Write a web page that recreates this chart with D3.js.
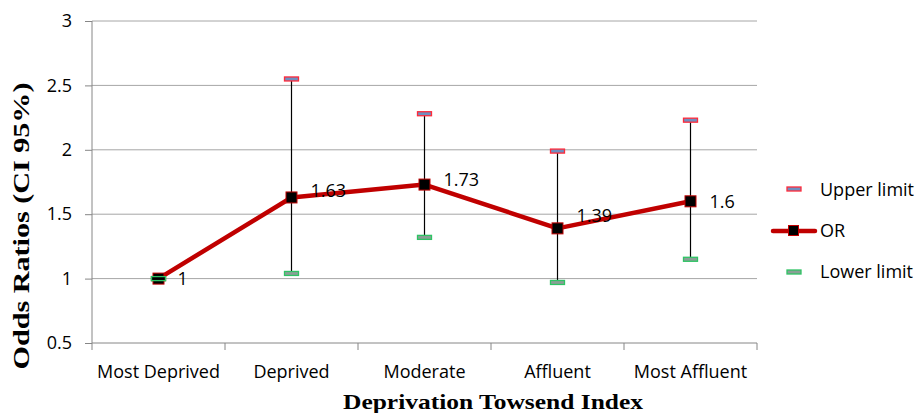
<!DOCTYPE html>
<html>
<head>
<meta charset="utf-8">
<script src="https://cdn.jsdelivr.net/npm/d3@7"></script>
<style>
  body { margin: 0; background: #fff; }
  text { font-family: "Open Sans", "Liberation Sans", sans-serif; }
</style>
</head>
<body>
<div id="chart"></div>
<script>
var width = 922;
var height = 413;

var categories = ["Most Deprived", "Deprived", "Moderate", "Affluent", "Most Affluent"];
var orValues = [1, 1.63, 1.73, 1.39, 1.6];
var upperLimits = [1, 2.55, 2.28, 1.99, 2.23];
var lowerLimits = [1, 1.04, 1.32, 0.97, 1.15];
var yTicks = [0.5, 1, 1.5, 2, 2.5, 3];

var plotLeft = 92, plotRight = 757, plotTop = 21, plotBottom = 343;

var svg = d3.select("#chart")
    .append("svg")
    .attr("width", width)
    .attr("height", height);

var xScale = d3.scaleBand()
    .domain(categories)
    .range([plotLeft, plotRight]);

var yScale = d3.scaleLinear()
    .domain([0.5, 3])
    .range([plotBottom, plotTop]);

var cx = function(i) { return xScale(categories[i]) + xScale.bandwidth() / 2; };

// gridlines
svg.selectAll(".grid")
    .data(yTicks.filter(function(d) { return d > 0.5; }))
    .enter()
    .append("line")
    .attr("x1", plotLeft).attr("x2", plotRight)
    .attr("y1", function(d) { return yScale(d); })
    .attr("y2", function(d) { return yScale(d); })
    .attr("stroke", "#a6a6a6").attr("stroke-width", 1);

// y axis
var yAxis = svg.append("g")
    .attr("transform", "translate(" + plotLeft + ",0)")
    .call(d3.axisLeft(yScale).tickValues(yTicks).tickSize(7).tickPadding(13)
        .tickFormat(function(d) { return String(d); }));
yAxis.selectAll("path, line").attr("stroke", "#868686");
yAxis.select("path").attr("d", "M0," + plotTop + "V" + plotBottom);
yAxis.selectAll("text").style("font-size", "18px").attr("fill", "#000");

// x axis
var xAxis = svg.append("g")
    .attr("transform", "translate(0," + plotBottom + ")")
    .call(d3.axisBottom(xScale).tickSize(0).tickPadding(22));
xAxis.select("path").attr("stroke", "#868686").attr("d", "M" + plotLeft + ",0H" + plotRight);
xAxis.selectAll("text").style("font-size", "18px").attr("fill", "#000");
// ticks at band boundaries
svg.selectAll(".xtick")
    .data(d3.range(categories.length + 1))
    .enter()
    .append("line")
    .attr("x1", function(i) { return plotLeft + i * xScale.bandwidth(); })
    .attr("x2", function(i) { return plotLeft + i * xScale.bandwidth(); })
    .attr("y1", plotBottom).attr("y2", plotBottom + 7)
    .attr("stroke", "#868686");

// error bars
svg.selectAll(".err")
    .data(categories)
    .enter()
    .append("line")
    .attr("x1", function(d, i) { return cx(i); })
    .attr("x2", function(d, i) { return cx(i); })
    .attr("y1", function(d, i) { return yScale(upperLimits[i]); })
    .attr("y2", function(d, i) { return yScale(lowerLimits[i]); })
    .attr("stroke", "#000").attr("stroke-width", 1.2);

function dash(g, x, y, stroke, fill) {
  g.append("rect")
    .attr("x", x - 7).attr("y", y - 2)
    .attr("width", 14).attr("height", 4)
    .attr("fill", fill).attr("stroke", stroke).attr("stroke-width", 1.3);
}

var upStroke = "#ff2a3a", upFill = "#6f8fc0";
var lowStroke = "#2ec464", lowFill = "#8a9f96";

var marks = svg.append("g");
categories.forEach(function(d, i) {
  dash(marks, cx(i), yScale(upperLimits[i]), upStroke, upFill);
  dash(marks, cx(i), yScale(lowerLimits[i]), lowStroke, lowFill);
});

// OR line
var line = d3.line()
    .x(function(d, i) { return cx(i); })
    .y(function(d) { return yScale(d); });

svg.append("path")
    .datum(orValues)
    .attr("d", line)
    .attr("fill", "none")
    .attr("stroke", "#c00000")
    .attr("stroke-width", 4.5)
    .attr("stroke-linejoin", "round");

svg.selectAll(".pt")
    .data(orValues)
    .enter()
    .append("rect")
    .attr("x", function(d, i) { return cx(i) - 5.5; })
    .attr("y", function(d) { return yScale(d) - 5.5; })
    .attr("width", 11).attr("height", 11)
    .attr("fill", "#000").attr("stroke", "#c00000").attr("stroke-width", 1);

// lower limit dash of first category sits over its marker
dash(svg, cx(0), yScale(lowerLimits[0]), lowStroke, "#000");

// data labels (Excel nudged them a bit differently)
var labelShift = [0, -7, -5, -13, 0];
svg.selectAll(".lbl")
    .data(orValues)
    .enter()
    .append("text")
    .attr("x", function(d, i) { return cx(i) + 19; })
    .attr("y", function(d, i) { return yScale(d) + labelShift[i]; })
    .attr("dy", "0.35em")
    .style("font-size", "18px")
    .text(function(d) { return String(d); });

// axis titles
svg.append("text")
    .attr("transform", "translate(29,226) rotate(-90)")
    .attr("text-anchor", "middle")
    .attr("textLength", 287)
    .attr("lengthAdjust", "spacingAndGlyphs")
    .style("font-family", "'Liberation Serif', serif")
    .style("font-weight", "bold")
    .style("font-size", "23px")
    .text("Odds Ratios (CI 95%)");

svg.append("text")
    .attr("x", 493).attr("y", 409)
    .attr("text-anchor", "middle")
    .attr("textLength", 300)
    .attr("lengthAdjust", "spacingAndGlyphs")
    .style("font-family", "'Liberation Serif', serif")
    .style("font-weight", "bold")
    .style("font-size", "22px")
    .text("Deprivation Towsend Index");

// legend
var lg = svg.append("g");
dash(lg, 794, 189, upStroke, upFill);
lg.append("line").attr("x1", 773).attr("x2", 815).attr("y1", 231).attr("y2", 231)
    .attr("stroke", "#c00000").attr("stroke-width", 4.5).attr("stroke-linecap", "round");
lg.append("rect").attr("x", 788.5).attr("y", 225.5).attr("width", 10).attr("height", 10)
    .attr("fill", "#000").attr("stroke", "#c00000");
dash(lg, 794, 272, lowStroke, lowFill);
lg.selectAll("text")
    .data(["Upper limit", "OR", "Lower limit"])
    .enter()
    .append("text")
    .attr("x", 820)
    .attr("y", function(d, i) { return 190 + i * 41; })
    .attr("dy", "0.35em")
    .style("font-size", "18px")
    .text(function(d) { return d; });
</script>
</body>
</html>
